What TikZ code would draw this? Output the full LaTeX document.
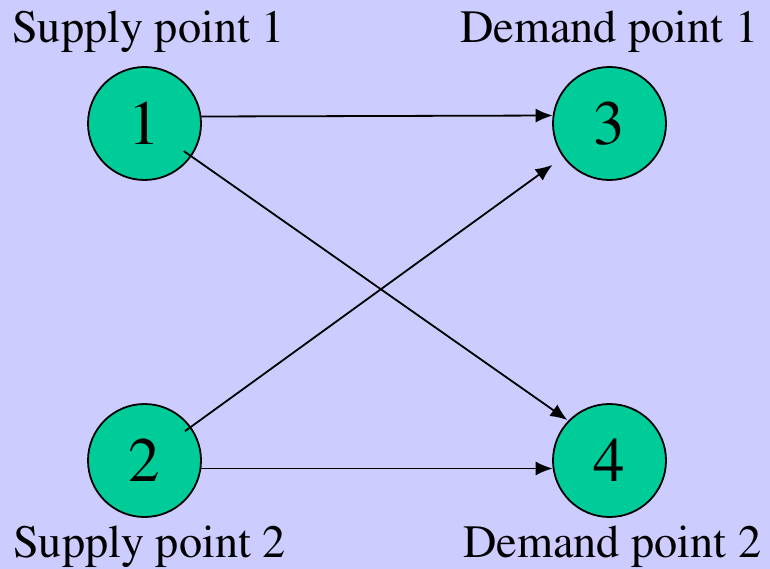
\documentclass[tikz,border=0pt]{standalone}
\usepackage[T1]{fontenc}
\usepackage{mathptmx}
\usepackage{tikz}
\usetikzlibrary{arrows.meta}
\definecolor{bglav}{HTML}{CCCCFF}
\definecolor{nodegreen}{HTML}{00CC99}
\tikzset{
    cirgreen/.style={draw=black,circle,fill=nodegreen,minimum size=113pt,inner sep=0pt,line width=1.8pt,font=\fontsize{63}{63}\selectfont},
    lbl/.style={anchor=base west,inner sep=0pt,font=\fontsize{46.3}{50}\selectfont},
    arr/.style={-{Latex[length=17pt,width=14pt]},line width=1.8pt},
}
\begin{document}
\begin{tikzpicture}[x=1pt,y=-1pt]
    \fill[bglav] (0,0) rectangle (770,569); % background

    \node[cirgreen] (n1) at (144.5,123.5) {1}; % supply nodes
    \node[cirgreen] (n2) at (144.5,460.5) {2};
    \node[cirgreen] (n3) at (609.5,123.5) {3}; % demand nodes
    \node[cirgreen] (n4) at (609.5,460.5) {4};

    \node[lbl] at (12,43) {Supply point 1}; % labels
    \node[lbl] at (460,43) {Demand point 1};
    \node[lbl] at (13,557) {Supply point 2};
    \node[lbl] at (463,557) {Demand point 2};

    \draw[arr] (n1.7.6) -- (n3.172.4); % arcs
    \draw[arr] (n2.-8.1) -- (n4.188.1);
    \draw[arr, shorten <=48pt, shorten >=1pt] (n1.center) -- (n4.136);
    \draw[arr, shorten <=50pt, shorten >=13pt] (n2.center) -- (n3.216);
\end{tikzpicture}
\end{document}
